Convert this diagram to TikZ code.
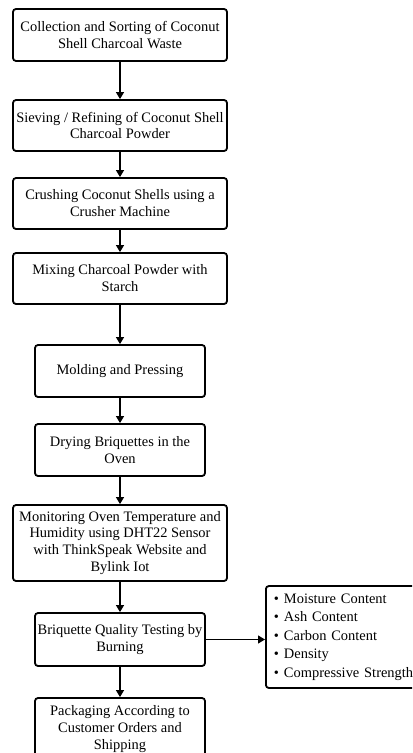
\documentclass[tikz,border=0pt]{standalone}
\usepackage{fontspec}
\setmainfont{Liberation Serif}
\usetikzlibrary{arrows.meta}
\newcommand\testitem{\textbullet\hspace{5bp}}
\begin{document}
\begin{tikzpicture}[x=1bp,y=-1bp,
  box/.style={draw,line width=1.8bp,rounded corners=3bp,align=center,inner sep=0pt,
    font=\fontsize{14.5}{17}\selectfont},
  wide/.style={box,minimum width=214bp},
  narrow/.style={box,minimum width=170bp},
  flow/.style={line width=1.2bp,-{Triangle[length=7bp,width=8bp]}}]
\clip (0,0) rectangle (412,753); % page size of the figure
\node[wide,minimum height=52bp] (b1) at (120,35) {Collection and Sorting of Coconut\\Shell Charcoal Waste};
\node[wide,minimum height=51bp] (b2) at (120,125.5) {Sieving / Refining of Coconut Shell\\Charcoal Powder};
\node[wide,minimum height=51bp] (b3) at (120,203.5) {Crushing Coconut Shells using a\\Crusher Machine};
\node[wide,minimum height=51bp] (b4) at (120,278.5) {Mixing Charcoal Powder with\\Starch};
\node[narrow,minimum height=52bp] (b5) at (120,371) {Molding and Pressing};
\node[narrow,minimum height=52bp] (b6) at (120,450) {Drying Briquettes in the\\Oven};
\node[wide,minimum height=76bp] (b7) at (120,543) {Monitoring Oven Temperature and\\Humidity using DHT22 Sensor\\with ThinkSpeak Website and\\Bylink Iot};
\node[narrow,minimum height=53bp] (b8) at (120,639.5) {Briquette Quality Testing by\\Burning};
\node[narrow,minimum height=62bp] (b9) at (120,729) {Packaging According to\\Customer Orders and\\Shipping};
\node[box,anchor=west,align=left,inner xsep=8bp,text width=154bp,minimum height=102bp,
  font=\fontsize{14.5}{18.5}\selectfont] (tests) at (265,637)
  {\testitem Moisture Content\\\testitem Ash Content\\\testitem Carbon Content\\\testitem Density\\\testitem Compressive Strength};
\foreach \a/\b in {b1/b2, b2/b3, b3/b4, b4/b5, b5/b6, b6/b7, b7/b8, b8/b9}
  \draw[flow] (\a.south) -- (\b.north);
\draw[flow] (b8.east) -- (b8.east -| tests.west);
\end{tikzpicture}
\end{document}
